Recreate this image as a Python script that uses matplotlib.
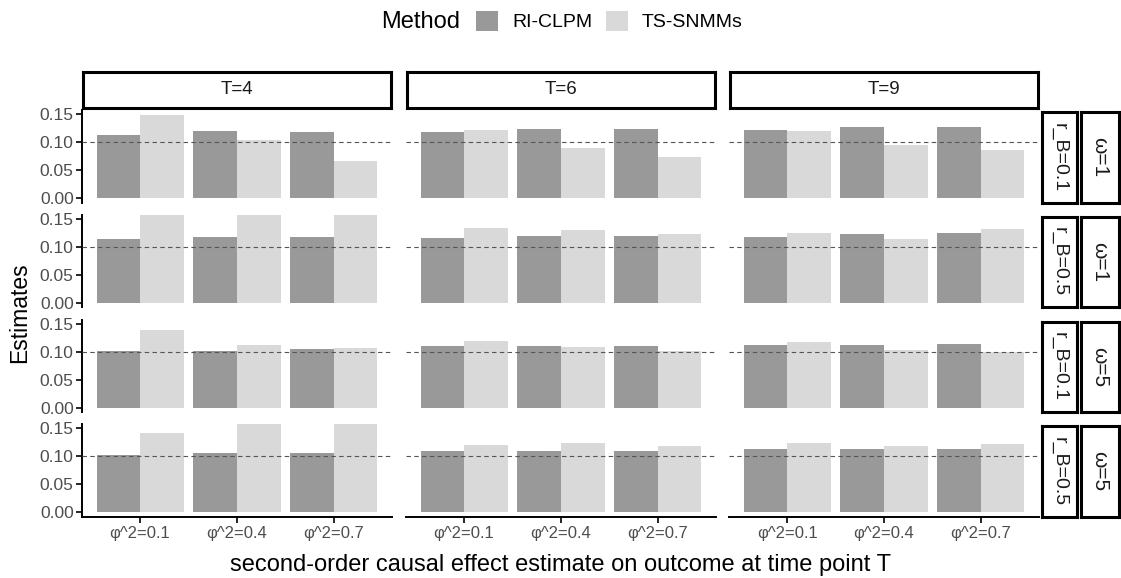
import matplotlib
matplotlib.use("Agg")
import matplotlib.pyplot as plt
import numpy as np

plt.rcParams["font.family"] = ["Liberation Sans", "DejaVu Sans"]

methods = ["RI-CLPM", "TS-SNMMs"]
method_colors = ["#999999", "#d9d9d9"]
T_labels = ["T=4", "T=6", "T=9"]
phi_labels = ["φ^2=0.1", "φ^2=0.4", "φ^2=0.7"]
rB_labels = ["r_B=0.1", "r_B=0.5", "r_B=0.1", "r_B=0.5"]
omega_labels = ["ω=1", "ω=1", "ω=5", "ω=5"]

# rows: (r_B, ω) combos, columns: φ^2 values
ri_T4 = [[0.113, 0.120, 0.118], [0.113, 0.118, 0.118], [0.102, 0.102, 0.104], [0.102, 0.105, 0.105]]
ts_T4 = [[0.149, 0.104, 0.067], [0.165, 0.165, 0.165], [0.139, 0.112, 0.106], [0.142, 0.165, 0.165]]
ri_T6 = [[0.118, 0.123, 0.123], [0.116, 0.120, 0.120], [0.110, 0.110, 0.110], [0.109, 0.109, 0.109]]
ts_T6 = [[0.121, 0.090, 0.073], [0.133, 0.129, 0.122], [0.120, 0.108, 0.102], [0.120, 0.123, 0.118]]
ri_T9 = [[0.121, 0.127, 0.127], [0.118, 0.122, 0.124], [0.112, 0.112, 0.114], [0.113, 0.113, 0.113]]
ts_T9 = [[0.120, 0.095, 0.087], [0.124, 0.113, 0.132], [0.118, 0.103, 0.100], [0.124, 0.119, 0.121]]
true_effect = 0.10

ri_all = [ri_T4, ri_T6, ri_T9]
ts_all = [ts_T4, ts_T6, ts_T9]

W, H = 1121, 578
fig = plt.figure(figsize=(W / 100, H / 100), dpi=100)


def box(x0, y0, w, h):
    # pixel box (top-left origin) -> figure fraction
    return [x0 / W, 1 - (y0 + h) / H, w / W, h / H]


col_left = [82, 406, 729]
col_w = 310
row_top = [110, 214.5, 319.5, 424]
row_h = 92.5
tick_grey = "#4d4d4d"

x = np.arange(1, 4)
bw = 0.45
for c in range(3):
    for r in range(4):
        ax = fig.add_axes(box(col_left[c], row_top[r], col_w, row_h))
        ax.bar(x - bw / 2, ri_all[c][r], width=bw, color=method_colors[0], label=methods[0])
        ax.bar(x + bw / 2, ts_all[c][r], width=bw, color=method_colors[1], label=methods[1])
        ax.axhline(true_effect, color="#555555", lw=0.8, ls=(0, (4, 3)), zorder=3)
        ax.set_xlim(0.4, 3.6)
        ax.set_ylim(-0.0075, 0.1575)
        for s in ["top", "right"]:
            ax.spines[s].set_visible(False)
        ax.spines["left"].set_visible(c == 0)
        ax.spines["bottom"].set_visible(r == 3)
        ax.spines["left"].set_linewidth(1.4)
        ax.spines["bottom"].set_linewidth(1.4)
        ax.set_yticks([0, 0.05, 0.10, 0.15])
        ax.set_xticks(x)
        if c == 0:
            ax.set_yticklabels(["0.00", "0.05", "0.10", "0.15"])
            ax.tick_params(axis="y", length=4, width=1.2, labelsize=12.5, labelcolor=tick_grey, pad=2)
        else:
            ax.tick_params(axis="y", left=False, labelleft=False)
        if r == 3:
            ax.set_xticklabels(phi_labels)
            ax.tick_params(axis="x", length=4, width=1.2, labelsize=12, labelcolor=tick_grey, pad=3)
        else:
            ax.tick_params(axis="x", bottom=False, labelbottom=False)
        if c == 0 and r == 0:
            handles, labels = ax.get_legend_handles_labels()


def strip(x0, y0, w, h, text, rot=0, size=13):
    sax = fig.add_axes(box(x0, y0, w, h))
    sax.set_xticks([])
    sax.set_yticks([])
    for s in sax.spines.values():
        s.set_linewidth(2.2)
        s.set_color("black")
    sax.text(0.5, 0.5, text, ha="center", va="center", rotation=rot,
             fontsize=size, color="#1a1a1a", transform=sax.transAxes)


for c in range(3):
    strip(col_left[c] + 1, 72, col_w - 2, 36, T_labels[c], size=13.5)
for r in range(4):
    strip(1042, row_top[r] + 2, 35, row_h - 2, rB_labels[r], rot=270, size=14)
    strip(1081, row_top[r] + 2, 38, row_h - 2, omega_labels[r], rot=270, size=15)

fig.text(20 / W, 1 - 313 / H, "Estimates", rotation=90, ha="center", va="center", fontsize=16.5)
fig.text(561 / W, 1 - 565 / H, "second-order causal effect estimate on outcome at time point T",
         ha="center", va="center", fontsize=17)

fig.text(421 / W, 1 - 22 / H, "Method", ha="center", va="center", fontsize=17)
fig.legend(handles, labels, loc="center left", bbox_to_anchor=(476 / W, 1 - 21 / H),
           ncol=2, frameon=False, fontsize=14, handlelength=1.13, handleheight=1.2,
           handletextpad=0.72, columnspacing=0.72, borderpad=0, borderaxespad=0)

plt.savefig("out.png", dpi=100)
